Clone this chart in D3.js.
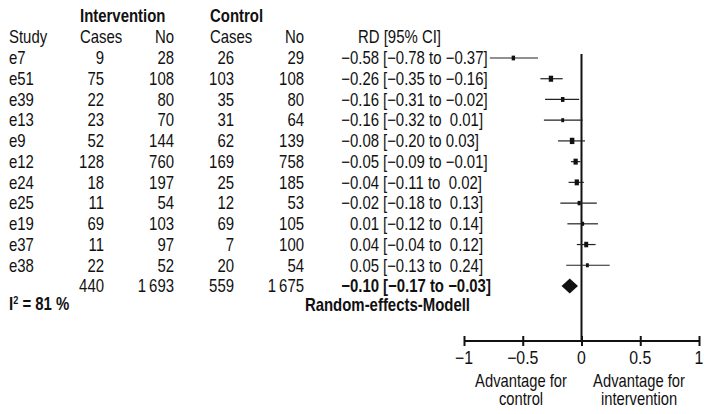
<!DOCTYPE html>
<html><head><meta charset="utf-8">
<script src="https://cdn.jsdelivr.net/npm/d3@7"></script>
<style>
body{margin:0;background:#fff;}
svg text{font-family:"Liberation Sans",Arial,sans-serif;font-size:18px;fill:#111;}
</style></head><body>
<svg id="c" width="709" height="414"></svg>
<script>
const studies = ["e7","e51","e39","e13","e9","e12","e24","e25","e19","e37","e38"];
const intCases = [9,75,22,23,52,128,18,11,69,11,22];
const intNo = [28,108,80,70,144,760,197,54,103,97,52];
const ctrlCases = [26,103,35,31,62,169,25,12,69,7,20];
const ctrlNo = [29,108,80,64,139,758,185,53,105,100,54];
const rd = [-0.58,-0.26,-0.16,-0.16,-0.08,-0.05,-0.04,-0.02,0.01,0.04,0.05];
const lo = [-0.78,-0.35,-0.31,-0.32,-0.20,-0.09,-0.11,-0.18,-0.12,-0.04,-0.13];
const hi = [-0.37,-0.16,-0.02,0.01,0.03,-0.01,0.02,0.13,0.14,0.12,0.24];
const weights = [7.0,11.5,7.5,5.0,12.5,11.0,11.0,6.0,5.0,9.5,5.0];
const totals = ["440","1\u2009693","559","1\u2009675"];
const pooled = {rd:-0.10, lo:-0.17, hi:-0.03};
const tickVals = [-1,-0.5,0,0.5,1];
const tickLabels = ["\u22121","\u22120.5","0","0.5","1"];

const svg = d3.select("#c");
const x = d3.scaleLinear().domain([-1,1]).range([464,699]);
const rows = d3.range(studies.length+1);
const y = d3.scalePoint().domain(rows).range([58,286]);
const sz = d3.scaleSqrt().domain([0,13]).range([0,4.6]);

function T(sel, px, py, s, o={}){
  const sx = o.sx || 0.83;
  const t = sel.append("text")
    .attr("transform",`translate(${px},${py}) scale(${sx},1)`)
    .attr("dy","0.35em")
    .attr("text-anchor", o.anchor || "start")
    .style("white-space","pre")
    .text(s);
  if (o.bold) t.attr("font-weight","bold");
  if (o.size) t.attr("font-size", o.size + "px");
  return t;
}
function fmt(v){ const s = Math.abs(v).toFixed(2); return (v<0?"\u2212":"")+s; }

// headers
const hdr = svg.append("g");
T(hdr,80,16,"Intervention",{bold:true});
T(hdr,210,16,"Control",{bold:true});
T(hdr,9,37,"Study");
T(hdr,80,37,"Cases");
T(hdr,174,37,"No",{anchor:"end"});
T(hdr,210,37,"Cases");
T(hdr,304,37,"No",{anchor:"end"});
T(hdr,358,37,"RD [95% CI]");

// study rows
const cols = [{arr:intCases,x:104},{arr:intNo,x:174},{arr:ctrlCases,x:234},{arr:ctrlNo,x:304}];
const g = svg.append("g");
studies.forEach((s,i)=>{
  const yy = y(i);
  T(g,9,yy,s);
  cols.forEach(c=>T(g,c.x,yy,String(c.arr[i]),{anchor:"end"}));
  T(g,379,yy,fmt(rd[i]),{anchor:"end"});
  T(g,383,yy,"[" + fmt(lo[i]) + " to " + (hi[i]>=0 && i!==4 ? " " : "") + fmt(hi[i]) + "]");
});
// total row
const ty = y(studies.length);
totals.forEach((t,k)=>T(g,cols[k].x,ty,t,{anchor:"end"}));
T(g,379,ty,fmt(pooled.rd),{anchor:"end",bold:true});
T(g,383,ty,"[" + fmt(pooled.lo) + " to " + fmt(pooled.hi) + "]",{bold:true});
const i2 = T(g,9,304,"",{bold:true});
i2.append("tspan").text("I");
i2.append("tspan").attr("dy","-6").attr("font-size","11px").text("2");
i2.append("tspan").attr("dy","6").text(" = 81 %");
T(g,470,305,"Random-effects-Modell",{anchor:"end",bold:true});

// plot
const axisY = 341;
const p = svg.append("g");
p.append("line").attr("x1",x(0)).attr("x2",x(0)).attr("y1",54).attr("y2",axisY).attr("stroke","#111").attr("stroke-width",2);
studies.forEach((s,i)=>{
  const yy = y(i);
  p.append("line").attr("x1",x(lo[i])).attr("x2",x(hi[i])).attr("y1",yy).attr("y2",yy).attr("stroke","#222").attr("stroke-width",1.2);
  const w = sz(weights[i]);
  p.append("rect").attr("x",x(rd[i])-w/2).attr("y",yy-w*0.7).attr("width",w).attr("height",w*1.4).attr("fill","#111");
});
p.append("path").attr("d",`M${x(pooled.lo)},${ty}L${x(pooled.rd)},${ty-7.5}L${x(pooled.hi)},${ty}L${x(pooled.rd)},${ty+7.5}Z`).attr("fill","#111");

// axis
const ax = p.append("g").attr("transform",`translate(0,${axisY})`)
  .call(d3.axisBottom(x).tickValues(tickVals).tickSize(5).tickFormat(""));
ax.select(".domain").attr("d",`M${x(-1)},0H${x(1)}`).attr("stroke","#111").attr("stroke-width",2.2);
ax.selectAll(".tick line").attr("y1",-5).attr("y2",5).attr("stroke","#111").attr("stroke-width",2);
tickVals.forEach((v,i)=>T(p,x(v),358,tickLabels[i],{anchor:"middle",size:16.5,sx:0.88}));

const lab = {size:15.5,sx:0.82,anchor:"middle"};
T(p,521,380.5,"Advantage for",lab);
T(p,521,399,"control",lab);
T(p,639,380.5,"Advantage for",lab);
T(p,639,399,"intervention",lab);
</script></body></html>
